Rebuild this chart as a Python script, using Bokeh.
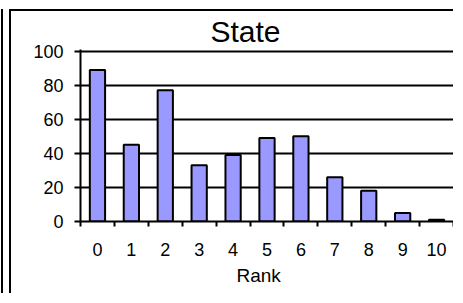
from bokeh.plotting import figure
from bokeh.layouts import column
from bokeh.models import Range1d, FixedTicker, Title
from bokeh.embed import file_html
from bokeh.resources import INLINE

ranks = [0, 1, 2, 3, 4, 5, 6, 7, 8, 9, 10]
counts = [89, 45, 77, 33, 39, 49, 50, 26, 18, 5, 1]
y_ticks = [0, 20, 40, 60, 80, 100]
title_text = "State"
x_title = "Rank"

FONT = "Liberation Sans"

p = figure(width=444, height=284, output_backend="svg", toolbar_location=None,
           x_range=Range1d(-0.5, 10.5), y_range=Range1d(0, 101),
           min_border_left=69, min_border_right=2, min_border_top=38, min_border_bottom=74)
p.outline_line_color = None
p.background_fill_color = "white"
p.border_fill_color = "white"
p.styles = {"border-left": "2px solid black", "border-top": "2px solid black"}

p.title.text = title_text
p.title.text_font = FONT
p.title.text_font_size = "30px"
p.title.text_font_style = "normal"
p.title.text_color = "black"
p.title.align = "left"
p.title.offset = 130
p.title.standoff = 3

p.vbar(x=ranks, top=counts, width=0.45, bottom=0,
       fill_color="#9999FF", line_color="black", line_width=2)

# grid
p.xgrid.grid_line_color = None
p.ygrid.ticker = FixedTicker(ticks=y_ticks)
p.ygrid.grid_line_color = "black"
p.ygrid.grid_line_width = 2
p.ygrid.grid_line_alpha = 1.0

# y axis
p.yaxis.ticker = FixedTicker(ticks=y_ticks)
p.yaxis.axis_line_width = 2
p.yaxis.axis_line_color = "black"
p.yaxis.major_tick_line_width = 2
p.yaxis.major_tick_out = 6
p.yaxis.major_tick_in = 0
p.yaxis.minor_tick_line_color = None
p.yaxis.major_label_text_font = FONT
p.yaxis.major_label_text_font_size = "18px"
p.yaxis.major_label_text_color = "black"
p.yaxis.major_label_standoff = 11

# x axis: labels at centres, ticks between categories
p.xaxis.ticker = FixedTicker(ticks=ranks, minor_ticks=[r - 0.5 for r in ranks] + [ranks[-1] + 0.5])
p.xaxis.axis_line_width = 2
p.xaxis.axis_line_color = "black"
p.xaxis.major_tick_out = 0
p.xaxis.major_tick_in = 0
p.xaxis.minor_tick_out = 5
p.xaxis.minor_tick_in = 0
p.xaxis.minor_tick_line_width = 2
p.xaxis.minor_tick_line_color = "black"
p.xaxis.major_label_text_font = FONT
p.xaxis.major_label_text_font_size = "18px"
p.xaxis.major_label_text_color = "black"
p.xaxis.major_label_standoff = 16

p.add_layout(Title(text=x_title, align="left", offset=156, text_font=FONT,
                   text_font_size="19px", text_font_style="normal", text_color="black",
                   standoff=9), "below")

layout = column(p, styles={"margin-left": "1px", "margin-top": "9px",
                           "border-left": "2px solid black", "padding-left": "6px"})

open("out.html", "w").write(file_html(layout, INLINE))
